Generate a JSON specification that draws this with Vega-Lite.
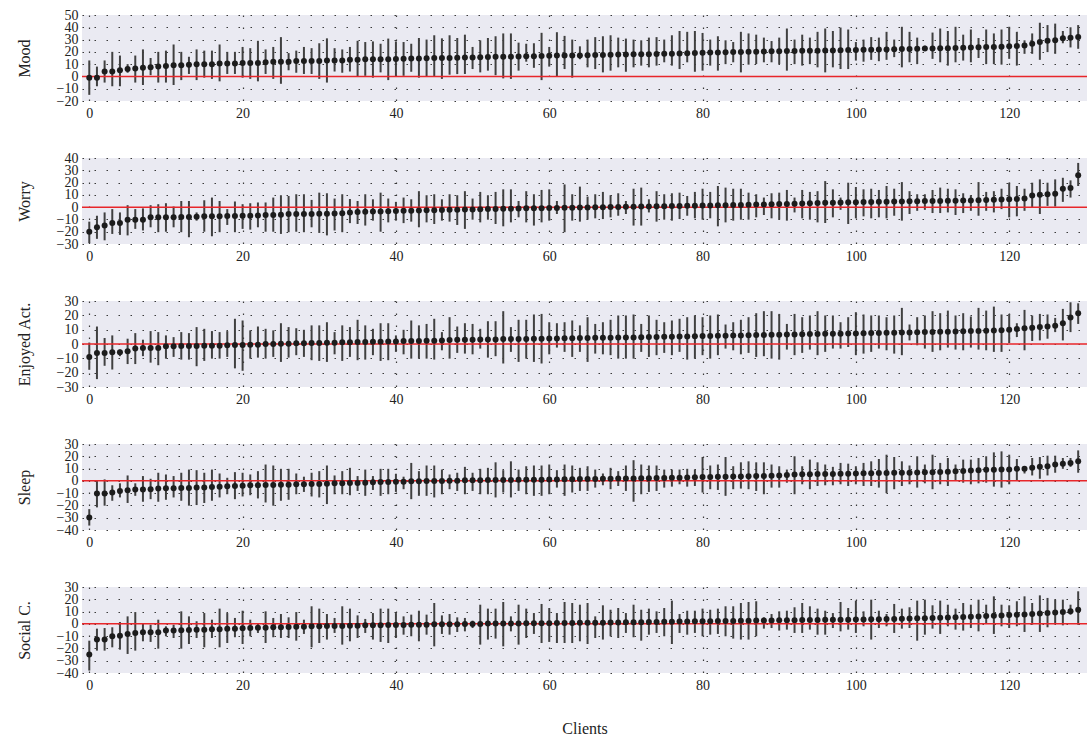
{
"$schema": "https://vega.github.io/schema/vega-lite/v6.json",
"padding": {"left": 16, "top": 8, "right": 0, "bottom": 0},
"spacing": 31,
"config": {
 "font": "Liberation Serif",
 "view": {"fill": "#EAEAF2", "stroke": null},
 "axis": {"domain": false, "ticks": false, "grid": true, "gridColor": "#3a3a3a", "gridDash": [1.5, 10.5], "gridWidth": 1.2, "labelFont": "Liberation Serif", "labelFontSize": 14, "labelColor": "#222", "titleFont": "Liberation Serif", "titleFontSize": 16, "titleFontWeight": "normal", "titleColor": "#222", "labelOverlap": false, "labelFlush": false, "labelBound": false},
 "axisX": {"labelPadding": 5},
 "axisY": {"labelPadding": 4, "titlePadding": 24}
},
"datasets": {
"mood": [
{"c":0,"m":-1,"lo":-15,"hi":13},{"c":1,"m":-1,"lo":-8,"hi":8},{"c":2,"m":4,"lo":-5,"hi":13},{"c":3,"m":4,"lo":-8,"hi":20},{"c":4,"m":5,"lo":-8,"hi":17},{"c":5,"m":6,"lo":3,"hi":10},{"c":6,"m":6.5,"lo":-5,"hi":17},{"c":7,"m":7,"lo":-7,"hi":22},{"c":8,"m":7.5,"lo":1,"hi":15},{"c":9,"m":8,"lo":-5,"hi":20},
{"c":10,"m":8.5,"lo":-5,"hi":21},{"c":11,"m":9,"lo":-7,"hi":26},{"c":12,"m":9,"lo":-3,"hi":20},{"c":13,"m":9.5,"lo":2,"hi":16},{"c":14,"m":10,"lo":-3,"hi":22},{"c":15,"m":10,"lo":-1,"hi":21},{"c":16,"m":10,"lo":-2,"hi":21},{"c":17,"m":10.5,"lo":-4,"hi":26},{"c":18,"m":10.5,"lo":2,"hi":20},{"c":19,"m":10.5,"lo":2,"hi":20},
{"c":20,"m":11,"lo":-1,"hi":24},{"c":21,"m":11,"lo":-2,"hi":23},{"c":22,"m":11,"lo":-4,"hi":29},{"c":23,"m":11.5,"lo":2,"hi":22},{"c":24,"m":12,"lo":-2,"hi":24},{"c":25,"m":12,"lo":-6,"hi":32},{"c":26,"m":12,"lo":5,"hi":19},{"c":27,"m":12.5,"lo":3,"hi":21},{"c":28,"m":12.5,"lo":2,"hi":24},{"c":29,"m":12.5,"lo":2,"hi":23},
{"c":30,"m":12.5,"lo":-2,"hi":27},{"c":31,"m":13,"lo":-5,"hi":31},{"c":32,"m":13,"lo":4,"hi":23},{"c":33,"m":13,"lo":3,"hi":22},{"c":34,"m":13.5,"lo":4,"hi":24},{"c":35,"m":13.5,"lo":0,"hi":29},{"c":36,"m":14,"lo":0.5,"hi":28},{"c":37,"m":14,"lo":-1,"hi":28.5},{"c":38,"m":14,"lo":3.3,"hi":26.6},{"c":39,"m":14,"lo":-3,"hi":30.8},
{"c":40,"m":14.2,"lo":-0.3,"hi":28.5},{"c":41,"m":14.3,"lo":0.5,"hi":28},{"c":42,"m":14.5,"lo":3.8,"hi":26.6},{"c":43,"m":14.6,"lo":-1,"hi":31.3},{"c":44,"m":14.8,"lo":0,"hi":30},{"c":45,"m":15,"lo":0,"hi":33.5},{"c":46,"m":15,"lo":-2,"hi":31},{"c":47,"m":15.1,"lo":1.4,"hi":33.5},{"c":48,"m":15.3,"lo":1.9,"hi":31.3},{"c":49,"m":15.5,"lo":2,"hi":34},
{"c":50,"m":15.5,"lo":6,"hi":24},{"c":51,"m":15.6,"lo":3.3,"hi":29.4},{"c":52,"m":15.8,"lo":4.7,"hi":31.3},{"c":53,"m":16,"lo":1,"hi":32.7},{"c":54,"m":16,"lo":-1.6,"hi":35},{"c":55,"m":16.1,"lo":-2,"hi":35},{"c":56,"m":16.3,"lo":4.7,"hi":27.5},{"c":57,"m":16.5,"lo":12,"hi":26.6},{"c":58,"m":16.5,"lo":7,"hi":27},{"c":59,"m":16.6,"lo":-3,"hi":35.5},
{"c":60,"m":16.8,"lo":8,"hi":24},{"c":61,"m":17,"lo":0,"hi":36},{"c":62,"m":17,"lo":6,"hi":33},{"c":63,"m":17,"lo":-1,"hi":30},{"c":64,"m":17.1,"lo":14,"hi":24.5},{"c":65,"m":17.3,"lo":7.4,"hi":30},{"c":66,"m":17.4,"lo":6,"hi":32},{"c":67,"m":17.5,"lo":3.3,"hi":32.7},{"c":68,"m":17.6,"lo":4.7,"hi":33.5},{"c":69,"m":17.8,"lo":7.4,"hi":31.6},
{"c":70,"m":17.9,"lo":3.8,"hi":30.8},{"c":71,"m":18,"lo":7.4,"hi":30},{"c":72,"m":18,"lo":8.8,"hi":29.4},{"c":73,"m":18.1,"lo":7.4,"hi":31.6},{"c":74,"m":18.3,"lo":8.8,"hi":32},{"c":75,"m":18.4,"lo":11.5,"hi":30},{"c":76,"m":18.5,"lo":8.8,"hi":33.5},{"c":77,"m":18.7,"lo":6,"hi":37},{"c":78,"m":18.9,"lo":11.5,"hi":36.3},{"c":79,"m":19,"lo":3.8,"hi":37},
{"c":80,"m":19.2,"lo":4.7,"hi":35.4},{"c":81,"m":19.4,"lo":8.8,"hi":30},{"c":82,"m":19.5,"lo":4.7,"hi":32.7},{"c":83,"m":19.6,"lo":10,"hi":29.4},{"c":84,"m":19.8,"lo":11.5,"hi":28},{"c":85,"m":19.9,"lo":3.3,"hi":36.3},{"c":86,"m":20,"lo":9.6,"hi":35},{"c":87,"m":20.1,"lo":10,"hi":34},{"c":88,"m":20.2,"lo":11.5,"hi":31.6},{"c":89,"m":20.4,"lo":11.5,"hi":28.8},
{"c":90,"m":20.5,"lo":10,"hi":31.6},{"c":91,"m":20.6,"lo":4.7,"hi":39},{"c":92,"m":20.7,"lo":10,"hi":30},{"c":93,"m":20.8,"lo":8.8,"hi":34},{"c":94,"m":21,"lo":10,"hi":31.6},{"c":95,"m":21,"lo":7.4,"hi":36.3},{"c":96,"m":21.1,"lo":3.3,"hi":39},{"c":97,"m":21.2,"lo":7.4,"hi":37},{"c":98,"m":21.3,"lo":6,"hi":39.8},{"c":99,"m":21.5,"lo":6,"hi":38.2},
{"c":100,"m":21.6,"lo":12.9,"hi":28},{"c":101,"m":21.7,"lo":12,"hi":30},{"c":102,"m":21.8,"lo":13.5,"hi":32},{"c":103,"m":22,"lo":12.4,"hi":31.6},{"c":104,"m":22,"lo":13.5,"hi":36.3},{"c":105,"m":22.1,"lo":15.7,"hi":30},{"c":106,"m":22.3,"lo":7.4,"hi":40.4},{"c":107,"m":22.4,"lo":11.5,"hi":36.3},{"c":108,"m":22.5,"lo":10,"hi":31.6},{"c":109,"m":22.7,"lo":21,"hi":25},
{"c":110,"m":22.8,"lo":14.3,"hi":35.7},{"c":111,"m":23,"lo":11.5,"hi":39},{"c":112,"m":23,"lo":8.8,"hi":37},{"c":113,"m":23.2,"lo":11.5,"hi":40.4},{"c":114,"m":23.4,"lo":12.9,"hi":34},{"c":115,"m":23.5,"lo":11.5,"hi":38.2},{"c":116,"m":23.7,"lo":15,"hi":31.3},{"c":117,"m":23.9,"lo":10,"hi":38.2},{"c":118,"m":24,"lo":10,"hi":35},{"c":119,"m":24.2,"lo":9.6,"hi":38.2},
{"c":120,"m":24.5,"lo":14.3,"hi":40.4},{"c":121,"m":24.8,"lo":8.8,"hi":36.3},{"c":122,"m":25.2,"lo":18.4,"hi":29.4},{"c":123,"m":26.5,"lo":18.4,"hi":35},{"c":124,"m":28,"lo":13.5,"hi":43.7},{"c":125,"m":29,"lo":19.8,"hi":41.8},{"c":126,"m":29.5,"lo":18.4,"hi":43},{"c":127,"m":31,"lo":27,"hi":37},{"c":128,"m":31.5,"lo":23.6,"hi":40},{"c":129,"m":32,"lo":22.5,"hi":41.8}
],
"worry": [
{"c":0,"m":-20,"lo":-29.3,"hi":-11.8},{"c":1,"m":-16.4,"lo":-25.8,"hi":-7},{"c":2,"m":-15,"lo":-27,"hi":-4.3},{"c":3,"m":-13,"lo":-21.8,"hi":-1.6},{"c":4,"m":-13,"lo":-22.6,"hi":-4.3},{"c":5,"m":-10.2,"lo":-23,"hi":1.6},{"c":6,"m":-10.2,"lo":-17.7,"hi":-1.6},{"c":7,"m":-10.2,"lo":-19,"hi":-1},{"c":8,"m":-8.3,"lo":-16.4,"hi":1.6},{"c":9,"m":-8.3,"lo":-20.4,"hi":2.4},
{"c":10,"m":-8.3,"lo":-20,"hi":3.2},{"c":11,"m":-8.2,"lo":-16.4,"hi":0.5},{"c":12,"m":-8.1,"lo":-20.4,"hi":5},{"c":13,"m":-8,"lo":-24.5,"hi":5},{"c":14,"m":-7.8,"lo":-11,"hi":-4.3},{"c":15,"m":-7.5,"lo":-20,"hi":5.6},{"c":16,"m":-7.5,"lo":-23.7,"hi":7.8},{"c":17,"m":-7.4,"lo":-20.4,"hi":5},{"c":18,"m":-7.3,"lo":-14.5,"hi":-1.6},{"c":19,"m":-7.2,"lo":-20.4,"hi":4.6},
{"c":20,"m":-7,"lo":-17.7,"hi":2.4},{"c":21,"m":-7,"lo":-18.3,"hi":3.2},{"c":22,"m":-6.8,"lo":-16.4,"hi":3.8},{"c":23,"m":-6.4,"lo":-20,"hi":3.8},{"c":24,"m":-6.3,"lo":-20,"hi":7.8},{"c":25,"m":-6.2,"lo":-21.8,"hi":9.7},{"c":26,"m":-5.6,"lo":-20.4,"hi":9.1},{"c":27,"m":-5.6,"lo":-20,"hi":10.5},{"c":28,"m":-5.5,"lo":-20.4,"hi":10.5},{"c":29,"m":-5.5,"lo":-16.4,"hi":5.9},
{"c":30,"m":-5.4,"lo":-21,"hi":11.8},{"c":31,"m":-5.3,"lo":-23,"hi":11.3},{"c":32,"m":-5.1,"lo":-19,"hi":7},{"c":33,"m":-5,"lo":-20.4,"hi":10.5},{"c":34,"m":-4.3,"lo":-13,"hi":6.6},{"c":35,"m":-4,"lo":-13.7,"hi":5},{"c":36,"m":-3.8,"lo":-15,"hi":10.5},{"c":37,"m":-3.6,"lo":-11,"hi":6.4},{"c":38,"m":-3.5,"lo":-20,"hi":11.8},{"c":39,"m":-3.3,"lo":-12.4,"hi":7},
{"c":40,"m":-3.2,"lo":-11,"hi":4.3},{"c":41,"m":-3,"lo":-13,"hi":7.8},{"c":42,"m":-2.9,"lo":-11.8,"hi":6.4},{"c":43,"m":-2.8,"lo":-16.4,"hi":13},{"c":44,"m":-2.6,"lo":-12.4,"hi":9.7},{"c":45,"m":-2.5,"lo":-13.7,"hi":10.5},{"c":46,"m":-2.4,"lo":-11,"hi":6.4},{"c":47,"m":-2.2,"lo":-11.8,"hi":10.5},{"c":48,"m":-2.1,"lo":-14.5,"hi":9.7},{"c":49,"m":-2,"lo":-17.7,"hi":13},
{"c":50,"m":-1.9,"lo":-10.2,"hi":7},{"c":51,"m":-1.8,"lo":-12.4,"hi":12.4},{"c":52,"m":-1.6,"lo":-10.2,"hi":9.7},{"c":53,"m":-1.5,"lo":-13.7,"hi":12.4},{"c":54,"m":-1.4,"lo":-15.6,"hi":14.5},{"c":55,"m":-1.3,"lo":-12.4,"hi":14.5},{"c":56,"m":-1.2,"lo":-8.3,"hi":5},{"c":57,"m":-1,"lo":-12.4,"hi":13},{"c":58,"m":-0.9,"lo":-15,"hi":10.5},{"c":59,"m":-0.8,"lo":-12.4,"hi":14},
{"c":60,"m":-0.7,"lo":-11,"hi":14.5},{"c":61,"m":-0.6,"lo":-5.6,"hi":5},{"c":62,"m":-0.5,"lo":-20.4,"hi":18.5},{"c":63,"m":-0.4,"lo":-11,"hi":10.5},{"c":64,"m":-0.3,"lo":-11.8,"hi":16.7},{"c":65,"m":-0.2,"lo":-10.2,"hi":8.6},{"c":66,"m":-0.1,"lo":-9.1,"hi":10.5},{"c":67,"m":0,"lo":-9.7,"hi":12.4},{"c":68,"m":0.1,"lo":-8.3,"hi":9.7},{"c":69,"m":0.2,"lo":-7,"hi":11.3},
{"c":70,"m":0.3,"lo":-5.6,"hi":5},{"c":71,"m":0.4,"lo":-15,"hi":15},{"c":72,"m":0.5,"lo":-15,"hi":15.9},{"c":73,"m":0.6,"lo":-4.3,"hi":6.4},{"c":74,"m":0.7,"lo":-11.8,"hi":13},{"c":75,"m":0.8,"lo":-10.2,"hi":10.5},{"c":76,"m":0.9,"lo":-11,"hi":11.3},{"c":77,"m":1,"lo":-9.7,"hi":11.8},{"c":78,"m":1.1,"lo":-7,"hi":9.1},{"c":79,"m":1.2,"lo":-9.1,"hi":12.4},
{"c":80,"m":1.3,"lo":-10.2,"hi":15},{"c":81,"m":1.4,"lo":-9.1,"hi":12.4},{"c":82,"m":1.5,"lo":-15.6,"hi":17.2},{"c":83,"m":1.6,"lo":-12.4,"hi":15.9},{"c":84,"m":1.7,"lo":-11,"hi":15},{"c":85,"m":1.8,"lo":-10.2,"hi":15},{"c":86,"m":2,"lo":-10.2,"hi":11.8},{"c":87,"m":2.1,"lo":-8.3,"hi":10.5},{"c":88,"m":2.2,"lo":-6.4,"hi":7.8},{"c":89,"m":2.4,"lo":-9.1,"hi":11.3},
{"c":90,"m":2.5,"lo":-10.2,"hi":11.8},{"c":91,"m":2.6,"lo":-11,"hi":14},{"c":92,"m":2.8,"lo":-4.3,"hi":7.8},{"c":93,"m":3,"lo":-9.1,"hi":14},{"c":94,"m":3.2,"lo":-10.2,"hi":12.4},{"c":95,"m":3.3,"lo":-12.4,"hi":13},{"c":96,"m":3.5,"lo":-12.9,"hi":21.2},{"c":97,"m":3.6,"lo":-8.3,"hi":14.5},{"c":98,"m":3.8,"lo":-2.2,"hi":7.8},{"c":99,"m":3.9,"lo":-13.7,"hi":19.9},
{"c":100,"m":4,"lo":-9.1,"hi":16.4},{"c":101,"m":4.1,"lo":-7.5,"hi":14.5},{"c":102,"m":4.2,"lo":-9.1,"hi":15},{"c":103,"m":4.3,"lo":-8.3,"hi":14},{"c":104,"m":4.4,"lo":-9.1,"hi":17.2},{"c":105,"m":4.5,"lo":-7,"hi":15},{"c":106,"m":4.6,"lo":-11,"hi":20.4},{"c":107,"m":4.7,"lo":-5.6,"hi":13},{"c":108,"m":4.8,"lo":-3,"hi":10.5},{"c":109,"m":4.9,"lo":-2.2,"hi":10.5},
{"c":110,"m":5,"lo":-4.8,"hi":14},{"c":111,"m":5.1,"lo":-4.8,"hi":15.9},{"c":112,"m":5.2,"lo":-4.3,"hi":15},{"c":113,"m":5.3,"lo":-6.4,"hi":14.5},{"c":114,"m":5.4,"lo":-4.8,"hi":11.3},{"c":115,"m":5.5,"lo":-3,"hi":9.7},{"c":116,"m":5.7,"lo":-7,"hi":20.4},{"c":117,"m":5.8,"lo":-3,"hi":12.4},{"c":118,"m":6,"lo":-4.3,"hi":13},{"c":119,"m":6.2,"lo":-1.6,"hi":15},
{"c":120,"m":6.4,"lo":-8.3,"hi":19.9},{"c":121,"m":6.6,"lo":-7.5,"hi":17.2},{"c":122,"m":7,"lo":-3,"hi":15},{"c":123,"m":9.5,"lo":-0.3,"hi":19.9},{"c":124,"m":10,"lo":-5.6,"hi":22.6},{"c":125,"m":10.5,"lo":1,"hi":19.9},{"c":126,"m":11,"lo":0.5,"hi":22.6},{"c":127,"m":15,"lo":4.3,"hi":23.9},{"c":128,"m":15.5,"lo":7.8,"hi":21.8},{"c":129,"m":26,"lo":17.2,"hi":36}
],
"enjoyed": [
{"c":0,"m":-9,"lo":-18,"hi":1},{"c":1,"m":-6.2,"lo":-24.5,"hi":12.2},{"c":2,"m":-6.2,"lo":-15.2,"hi":4.2},{"c":3,"m":-5.8,"lo":-17.8,"hi":6},{"c":4,"m":-5.8,"lo":-8.5,"hi":-3.9},{"c":5,"m":-5,"lo":-14,"hi":3.7},{"c":6,"m":-3.2,"lo":-14,"hi":7.6},{"c":7,"m":-2.8,"lo":-8.5,"hi":3},{"c":8,"m":-2.8,"lo":-13,"hi":9},{"c":9,"m":-2.8,"lo":-14.8,"hi":8.3},
{"c":10,"m":-1.6,"lo":-10.2,"hi":6},{"c":11,"m":-1.6,"lo":-9,"hi":4.8},{"c":12,"m":-1.4,"lo":-10.9,"hi":8.3},{"c":13,"m":-1.4,"lo":-10.9,"hi":7.6},{"c":14,"m":-1.4,"lo":-15.5,"hi":11.8},{"c":15,"m":-1.2,"lo":-11.8,"hi":10.6},{"c":16,"m":-1.2,"lo":-10.2,"hi":9},{"c":17,"m":-1.2,"lo":-10.2,"hi":8.3},{"c":18,"m":-0.9,"lo":-9,"hi":9},{"c":19,"m":-0.7,"lo":-17,"hi":17.6},
{"c":20,"m":-0.7,"lo":-18.7,"hi":16.4},{"c":21,"m":-0.5,"lo":-10.2,"hi":9.5},{"c":22,"m":-0.5,"lo":-9.5,"hi":12.2},{"c":23,"m":0,"lo":-10.2,"hi":10.6},{"c":24,"m":0,"lo":-9,"hi":9.5},{"c":25,"m":0.2,"lo":-12.5,"hi":14.5},{"c":26,"m":0.2,"lo":-9.5,"hi":11.8},{"c":27,"m":0.5,"lo":-7.8,"hi":11},{"c":28,"m":0.5,"lo":-9,"hi":9.9},{"c":29,"m":0.7,"lo":-11.3,"hi":13},
{"c":30,"m":0.7,"lo":-11.8,"hi":13},{"c":31,"m":0.9,"lo":-12.5,"hi":15.2},{"c":32,"m":0.9,"lo":-7.2,"hi":8.3},{"c":33,"m":1.2,"lo":-11.8,"hi":13},{"c":34,"m":1.2,"lo":-9,"hi":11.8},{"c":35,"m":1.4,"lo":-11.3,"hi":16.9},{"c":36,"m":1.4,"lo":-10.9,"hi":13},{"c":37,"m":1.6,"lo":-7.8,"hi":10.6},{"c":38,"m":1.6,"lo":-11.8,"hi":14.5},{"c":39,"m":1.8,"lo":-11.3,"hi":14.5},
{"c":40,"m":1.8,"lo":-5.5,"hi":6},{"c":41,"m":2.1,"lo":-7.2,"hi":9.9},{"c":42,"m":2.1,"lo":-10.2,"hi":16.4},{"c":43,"m":2.1,"lo":-10.2,"hi":13},{"c":44,"m":2.3,"lo":-10.2,"hi":14},{"c":45,"m":2.3,"lo":-10.9,"hi":17.6},{"c":46,"m":2.5,"lo":-4.4,"hi":8.3},{"c":47,"m":2.8,"lo":-10.2,"hi":18.7},{"c":48,"m":3,"lo":-6.2,"hi":12.2},{"c":49,"m":3,"lo":-6.7,"hi":14.5},
{"c":50,"m":3,"lo":-7.2,"hi":14},{"c":51,"m":3.2,"lo":-3.2,"hi":10.6},{"c":52,"m":3.2,"lo":-9.5,"hi":15.9},{"c":53,"m":3.2,"lo":-8.5,"hi":15.9},{"c":54,"m":3.5,"lo":-13.6,"hi":22.9},{"c":55,"m":3.5,"lo":-5.5,"hi":11.8},{"c":56,"m":3.5,"lo":-12.5,"hi":16.9},{"c":57,"m":3.5,"lo":-10.2,"hi":16.9},{"c":58,"m":3.7,"lo":-12.5,"hi":20.6},{"c":59,"m":3.7,"lo":-13.6,"hi":21},
{"c":60,"m":3.8,"lo":-7.2,"hi":15.2},{"c":61,"m":3.9,"lo":-2.5,"hi":14.5},{"c":62,"m":4,"lo":-5.5,"hi":15.2},{"c":63,"m":4,"lo":-9,"hi":16.4},{"c":64,"m":4.1,"lo":-5.5,"hi":13},{"c":65,"m":4.2,"lo":-12.5,"hi":18.7},{"c":66,"m":4.3,"lo":-6.7,"hi":14},{"c":67,"m":4.3,"lo":-7.2,"hi":15.2},{"c":68,"m":4.4,"lo":-7.8,"hi":16.9},{"c":69,"m":4.5,"lo":-10.2,"hi":19.9},
{"c":70,"m":4.5,"lo":-10.2,"hi":19.9},{"c":71,"m":4.6,"lo":-10.2,"hi":20.6},{"c":72,"m":4.7,"lo":-5.5,"hi":14},{"c":73,"m":4.8,"lo":-9,"hi":19.9},{"c":74,"m":4.9,"lo":-7.8,"hi":16.9},{"c":75,"m":5,"lo":-6.2,"hi":15.2},{"c":76,"m":5.1,"lo":-7.8,"hi":16.4},{"c":77,"m":5.2,"lo":-5.5,"hi":17.6},{"c":78,"m":5.3,"lo":-10.9,"hi":18.7},{"c":79,"m":5.4,"lo":-10.2,"hi":19.9},
{"c":80,"m":5.5,"lo":-7.8,"hi":18.7},{"c":81,"m":5.6,"lo":-10.2,"hi":19.9},{"c":82,"m":5.7,"lo":-7.8,"hi":20.6},{"c":83,"m":5.8,"lo":-3.2,"hi":13.6},{"c":84,"m":5.9,"lo":-4.4,"hi":15.2},{"c":85,"m":6,"lo":-7.2,"hi":16.9},{"c":86,"m":6.1,"lo":-6.2,"hi":18.7},{"c":87,"m":6.2,"lo":-9,"hi":21.5},{"c":88,"m":6.3,"lo":-8.5,"hi":22.9},{"c":89,"m":6.4,"lo":-10.2,"hi":22.9},
{"c":90,"m":6.5,"lo":-10.9,"hi":21},{"c":91,"m":6.6,"lo":-3.9,"hi":14},{"c":92,"m":6.7,"lo":-7.8,"hi":21},{"c":93,"m":6.8,"lo":-6.2,"hi":18.7},{"c":94,"m":6.9,"lo":-3.9,"hi":19.9},{"c":95,"m":7,"lo":-7.8,"hi":22.9},{"c":96,"m":7.1,"lo":-5.5,"hi":19.9},{"c":97,"m":7.1,"lo":-3.2,"hi":19.9},{"c":98,"m":7.2,"lo":-3.2,"hi":15.2},{"c":99,"m":7.3,"lo":-2.1,"hi":18.7},
{"c":100,"m":7.4,"lo":-7.8,"hi":22.2},{"c":101,"m":7.5,"lo":-6.7,"hi":20.6},{"c":102,"m":7.6,"lo":-5.5,"hi":19.9},{"c":103,"m":7.7,"lo":-3.2,"hi":19.9},{"c":104,"m":7.8,"lo":-4.4,"hi":18.7},{"c":105,"m":7.9,"lo":-6.7,"hi":19.9},{"c":106,"m":8,"lo":-7.8,"hi":25.2},{"c":107,"m":8.1,"lo":2.5,"hi":13.6},{"c":108,"m":8.2,"lo":-0.9,"hi":18.7},{"c":109,"m":8.3,"lo":-3.2,"hi":19.9},
{"c":110,"m":8.4,"lo":-5.5,"hi":22.9},{"c":111,"m":8.5,"lo":-4.4,"hi":21.5},{"c":112,"m":8.6,"lo":-2.5,"hi":23.3},{"c":113,"m":8.8,"lo":-3.9,"hi":19.9},{"c":114,"m":8.9,"lo":-4.4,"hi":21.5},{"c":115,"m":9,"lo":-2.5,"hi":19.2},{"c":116,"m":9.1,"lo":-3.9,"hi":25.2},{"c":117,"m":9.3,"lo":-4.4,"hi":23.3},{"c":118,"m":9.4,"lo":-5.5,"hi":26.1},{"c":119,"m":9.6,"lo":-5.5,"hi":20.6},
{"c":120,"m":9.9,"lo":0.7,"hi":21},{"c":121,"m":10.5,"lo":4.8,"hi":14.5},{"c":122,"m":11,"lo":-4.4,"hi":23.8},{"c":123,"m":11.3,"lo":2.1,"hi":19.9},{"c":124,"m":11.8,"lo":2.5,"hi":21},{"c":125,"m":12.2,"lo":3.7,"hi":20.6},{"c":126,"m":12.8,"lo":8.3,"hi":18.2},{"c":127,"m":14.5,"lo":2.5,"hi":24.5},{"c":128,"m":18.5,"lo":8.3,"hi":29.1},{"c":129,"m":21.5,"lo":14,"hi":28.4}
],
"sleep": [
{"c":0,"m":-29.9,"lo":-36.4,"hi":-23},{"c":1,"m":-10.3,"lo":-21.6,"hi":0},{"c":2,"m":-10.3,"lo":-20.2,"hi":1.2},{"c":3,"m":-9.5,"lo":-16.2,"hi":-3.6},{"c":4,"m":-8.2,"lo":-13.5,"hi":-2},{"c":5,"m":-7.6,"lo":-18,"hi":4.4},{"c":6,"m":-7.1,"lo":-12.2,"hi":-2},{"c":7,"m":-7.1,"lo":-17,"hi":3.9},{"c":8,"m":-6.8,"lo":-14.9,"hi":1.7},{"c":9,"m":-6.3,"lo":-17,"hi":6.6},
{"c":10,"m":-6,"lo":-15.4,"hi":5.2},{"c":11,"m":-6,"lo":-13.5,"hi":3.9},{"c":12,"m":-5.8,"lo":-16.2,"hi":6.6},{"c":13,"m":-5.8,"lo":-20.2,"hi":9.2},{"c":14,"m":-5.5,"lo":-19.7,"hi":8.7},{"c":15,"m":-5.5,"lo":-18,"hi":6.6},{"c":16,"m":-5,"lo":-16.2,"hi":9.2},{"c":17,"m":-4.7,"lo":-13.5,"hi":6},{"c":18,"m":-4.4,"lo":-10.9,"hi":2.5},{"c":19,"m":-4.2,"lo":-14.9,"hi":7.1},
{"c":20,"m":-3.9,"lo":-12.7,"hi":6.6},{"c":21,"m":-3.6,"lo":-11.7,"hi":5.2},{"c":22,"m":-3.6,"lo":-14.3,"hi":7.9},{"c":23,"m":-3.4,"lo":-17.6,"hi":13.3},{"c":24,"m":-3.4,"lo":-20.2,"hi":12.5},{"c":25,"m":-3.1,"lo":-16.2,"hi":9.8},{"c":26,"m":-3.1,"lo":-15.4,"hi":9.8},{"c":27,"m":-2.8,"lo":-10.9,"hi":6},{"c":28,"m":-2.8,"lo":-9,"hi":3.4},{"c":29,"m":-2.5,"lo":-12.7,"hi":6.6},
{"c":30,"m":-2.5,"lo":-13.5,"hi":7.9},{"c":31,"m":-2.3,"lo":-18.9,"hi":12.5},{"c":32,"m":-2,"lo":-10.9,"hi":4.4},{"c":33,"m":-2,"lo":-10.9,"hi":7.9},{"c":34,"m":-1.7,"lo":-11.7,"hi":10.6},{"c":35,"m":-1.7,"lo":-8.2,"hi":3.9},{"c":36,"m":-1.5,"lo":-12.2,"hi":9.2},{"c":37,"m":-1.2,"lo":-7.4,"hi":3.9},{"c":38,"m":-0.9,"lo":-12.2,"hi":9.8},{"c":39,"m":-0.9,"lo":-10.9,"hi":9.8},
{"c":40,"m":-0.7,"lo":-9,"hi":5.8},{"c":41,"m":-0.7,"lo":-6.8,"hi":3.4},{"c":42,"m":-0.4,"lo":-14.9,"hi":14.6},{"c":43,"m":-0.4,"lo":-12.2,"hi":7.9},{"c":44,"m":-0.1,"lo":-12.2,"hi":12.5},{"c":45,"m":-0.1,"lo":-13.5,"hi":12.5},{"c":46,"m":-0.1,"lo":-10.9,"hi":9.2},{"c":47,"m":0.1,"lo":-6.8,"hi":5.2},{"c":48,"m":0.1,"lo":-8.2,"hi":6.6},{"c":49,"m":0.4,"lo":-10.9,"hi":11.4},
{"c":50,"m":0.4,"lo":-8.2,"hi":6.6},{"c":51,"m":0.4,"lo":-10.9,"hi":9.8},{"c":52,"m":0.7,"lo":-10.9,"hi":10.6},{"c":53,"m":0.7,"lo":-13.5,"hi":15.1},{"c":54,"m":0.7,"lo":-9.5,"hi":8.7},{"c":55,"m":0.7,"lo":-13.5,"hi":15.9},{"c":56,"m":0.9,"lo":-8.2,"hi":9.2},{"c":57,"m":0.9,"lo":-10.9,"hi":11.9},{"c":58,"m":0.9,"lo":-12.2,"hi":12.5},{"c":59,"m":1,"lo":-12.2,"hi":12.5},
{"c":60,"m":1.2,"lo":-10.9,"hi":13.3},{"c":61,"m":1.2,"lo":-5.5,"hi":8.7},{"c":62,"m":1.3,"lo":-12.2,"hi":13.3},{"c":63,"m":1.4,"lo":-9.5,"hi":12.5},{"c":64,"m":1.5,"lo":-8.2,"hi":10.6},{"c":65,"m":1.5,"lo":-8.2,"hi":11.9},{"c":66,"m":1.6,"lo":-5.5,"hi":9.2},{"c":67,"m":1.7,"lo":-3.6,"hi":6},{"c":68,"m":1.8,"lo":-6.8,"hi":10.6},{"c":69,"m":1.9,"lo":-4.2,"hi":7.9},
{"c":70,"m":2,"lo":-8.2,"hi":12.5},{"c":71,"m":2,"lo":-17,"hi":16.8},{"c":72,"m":2.1,"lo":-10.9,"hi":13.3},{"c":73,"m":2.2,"lo":-9,"hi":12.5},{"c":74,"m":2.3,"lo":-8.2,"hi":12.5},{"c":75,"m":2.4,"lo":-5.5,"hi":9.2},{"c":76,"m":2.5,"lo":-4.7,"hi":9.2},{"c":77,"m":2.6,"lo":-2.8,"hi":9.2},{"c":78,"m":2.8,"lo":-4.7,"hi":9.8},{"c":79,"m":2.9,"lo":-4.2,"hi":9.2},
{"c":80,"m":3.1,"lo":-9.5,"hi":19.4},{"c":81,"m":3.2,"lo":-6.8,"hi":12.5},{"c":82,"m":3.3,"lo":-7.4,"hi":13.3},{"c":83,"m":3.4,"lo":-12.2,"hi":19.4},{"c":84,"m":3.5,"lo":-6.8,"hi":11.9},{"c":85,"m":3.6,"lo":-6.3,"hi":15.1},{"c":86,"m":3.8,"lo":-6.8,"hi":15.9},{"c":87,"m":3.9,"lo":-8.2,"hi":15.1},{"c":88,"m":4,"lo":-10.9,"hi":15.1},{"c":89,"m":4.2,"lo":-5.5,"hi":13.3},
{"c":90,"m":4.4,"lo":-5.5,"hi":11.9},{"c":91,"m":4.8,"lo":-1.5,"hi":9.2},{"c":92,"m":5.2,"lo":-10.9,"hi":20},{"c":93,"m":5.3,"lo":-2.8,"hi":11.9},{"c":94,"m":5.4,"lo":-6.8,"hi":17.3},{"c":95,"m":5.5,"lo":-4.2,"hi":15.1},{"c":96,"m":5.6,"lo":-3.6,"hi":13.3},{"c":97,"m":5.6,"lo":-3.6,"hi":11.4},{"c":98,"m":5.7,"lo":-2.8,"hi":14.6},{"c":99,"m":5.8,"lo":-4.2,"hi":14},
{"c":100,"m":6,"lo":-2.8,"hi":11.9},{"c":101,"m":6.1,"lo":-4.2,"hi":14.6},{"c":102,"m":6.2,"lo":-4.2,"hi":15.9},{"c":103,"m":6.3,"lo":-5.5,"hi":17.8},{"c":104,"m":6.4,"lo":-10,"hi":21.3},{"c":105,"m":6.5,"lo":-6.8,"hi":19.4},{"c":106,"m":6.6,"lo":-4.2,"hi":15.9},{"c":107,"m":6.7,"lo":-2.8,"hi":12.5},{"c":108,"m":6.8,"lo":-5.5,"hi":20},{"c":109,"m":7,"lo":-2,"hi":13.3},
{"c":110,"m":7.1,"lo":-6.8,"hi":21.3},{"c":111,"m":7.3,"lo":-2.8,"hi":14.6},{"c":112,"m":7.5,"lo":-4.2,"hi":18.6},{"c":113,"m":7.8,"lo":0.7,"hi":13.3},{"c":114,"m":8,"lo":-1.5,"hi":17.3},{"c":115,"m":8.4,"lo":-2.8,"hi":17.3},{"c":116,"m":8.6,"lo":-2,"hi":18.6},{"c":117,"m":9,"lo":-1.5,"hi":20},{"c":118,"m":9.1,"lo":-4.7,"hi":23.2},{"c":119,"m":9.2,"lo":-5.5,"hi":24},
{"c":120,"m":9.3,"lo":-2.8,"hi":21.3},{"c":121,"m":9.8,"lo":-0.1,"hi":17.8},{"c":122,"m":9.9,"lo":6,"hi":10.6},{"c":123,"m":10.6,"lo":4.4,"hi":18.6},{"c":124,"m":11.4,"lo":1.7,"hi":19.4},{"c":125,"m":11.9,"lo":4.4,"hi":20.5},{"c":126,"m":13.3,"lo":6.6,"hi":20.5},{"c":127,"m":14,"lo":9.8,"hi":18.6},{"c":128,"m":14.6,"lo":11.4,"hi":18.6},{"c":129,"m":15.9,"lo":6.6,"hi":24.8}
],
"social": [
{"c":0,"m":-25,"lo":-38,"hi":-13.7},{"c":1,"m":-12.8,"lo":-21.8,"hi":-3.9},{"c":2,"m":-12.8,"lo":-21.8,"hi":-3.4},{"c":3,"m":-10.1,"lo":-19.1,"hi":-2.8},{"c":4,"m":-9.6,"lo":-21,"hi":1.5},{"c":5,"m":-8.2,"lo":-24.5,"hi":6.1},{"c":6,"m":-7.4,"lo":-21.8,"hi":9.6},{"c":7,"m":-6.9,"lo":-14.2,"hi":-0.1},{"c":8,"m":-6.9,"lo":-14.7,"hi":-0.7},{"c":9,"m":-6.9,"lo":-20.2,"hi":3.4},
{"c":10,"m":-5.5,"lo":-10.1,"hi":-2},{"c":11,"m":-5.5,"lo":-11.5,"hi":-0.7},{"c":12,"m":-5.3,"lo":-20.2,"hi":10.2},{"c":13,"m":-5,"lo":-16.4,"hi":6.1},{"c":14,"m":-4.7,"lo":-11.5,"hi":2.1},{"c":15,"m":-4.7,"lo":-19.1,"hi":8.8},{"c":16,"m":-4.4,"lo":-11.5,"hi":3.4},{"c":17,"m":-4.4,"lo":-19.1,"hi":12.4},{"c":18,"m":-3.9,"lo":-15.6,"hi":8.8},{"c":19,"m":-3.9,"lo":-10.9,"hi":4.8},
{"c":20,"m":-3.6,"lo":-16.4,"hi":10.7},{"c":21,"m":-3.4,"lo":-10.1,"hi":3.4},{"c":22,"m":-3.1,"lo":-7.4,"hi":0.7},{"c":23,"m":-3.1,"lo":-15.6,"hi":10.2},{"c":24,"m":-2.8,"lo":-10.9,"hi":4.8},{"c":25,"m":-2.8,"lo":-11.5,"hi":8},{"c":26,"m":-2.5,"lo":-11.5,"hi":5.3},{"c":27,"m":-2.3,"lo":-13.7,"hi":9.6},{"c":28,"m":-2.3,"lo":-8.2,"hi":3.4},{"c":29,"m":-2,"lo":-19.1,"hi":14.3},
{"c":30,"m":-2,"lo":-15.6,"hi":12.4},{"c":31,"m":-1.7,"lo":-12.8,"hi":8},{"c":32,"m":-1.7,"lo":-7.4,"hi":4.8},{"c":33,"m":-1.7,"lo":-16.9,"hi":14.3},{"c":34,"m":-1.5,"lo":-14.2,"hi":12.4},{"c":35,"m":-1.5,"lo":-11.5,"hi":6.9},{"c":36,"m":-1.2,"lo":-7.4,"hi":4},{"c":37,"m":-1.2,"lo":-12.8,"hi":8.8},{"c":38,"m":-1.2,"lo":-14.7,"hi":12.4},{"c":39,"m":-0.9,"lo":-15.6,"hi":12.4},
{"c":40,"m":-0.9,"lo":-11.5,"hi":8.8},{"c":41,"m":-0.9,"lo":-8.8,"hi":6.1},{"c":42,"m":-0.7,"lo":-10.1,"hi":7.5},{"c":43,"m":-0.7,"lo":-14.2,"hi":10.7},{"c":44,"m":-0.7,"lo":-8.8,"hi":7.5},{"c":45,"m":-0.4,"lo":-18.3,"hi":17},{"c":46,"m":-0.4,"lo":-8.2,"hi":6.9},{"c":47,"m":-0.4,"lo":-8.8,"hi":8},{"c":48,"m":-0.4,"lo":-6.6,"hi":5.3},{"c":49,"m":-0.1,"lo":-6.1,"hi":4.8},
{"c":50,"m":-0.1,"lo":-3.4,"hi":2.6},{"c":51,"m":-0.1,"lo":-16.9,"hi":15.6},{"c":52,"m":0.2,"lo":-12.8,"hi":12.4},{"c":53,"m":0.2,"lo":-12,"hi":12.4},{"c":54,"m":0.2,"lo":-18.3,"hi":17.8},{"c":55,"m":0.2,"lo":-6.1,"hi":6.1},{"c":56,"m":0.2,"lo":-16.9,"hi":15.6},{"c":57,"m":0.4,"lo":-11.5,"hi":12.4},{"c":58,"m":0.4,"lo":-8.2,"hi":8.8},{"c":59,"m":0.4,"lo":-15.6,"hi":16.2},
{"c":60,"m":0.5,"lo":-14.7,"hi":12.9},{"c":61,"m":0.6,"lo":-15.6,"hi":8.8},{"c":62,"m":0.7,"lo":-15.6,"hi":17.8},{"c":63,"m":0.7,"lo":-15.6,"hi":17},{"c":64,"m":0.8,"lo":-14.2,"hi":15.6},{"c":65,"m":0.9,"lo":-16.4,"hi":17},{"c":66,"m":1,"lo":-11.5,"hi":6.1},{"c":67,"m":1,"lo":-12.8,"hi":15.1},{"c":68,"m":1.1,"lo":-10.1,"hi":11.5},{"c":69,"m":1.2,"lo":-11.5,"hi":12.9},
{"c":70,"m":1.3,"lo":-7.4,"hi":8.8},{"c":71,"m":1.4,"lo":-10.9,"hi":15.6},{"c":72,"m":1.4,"lo":-13.7,"hi":11.5},{"c":73,"m":1.5,"lo":-8.8,"hi":12.4},{"c":74,"m":1.6,"lo":-7.4,"hi":10.2},{"c":75,"m":1.7,"lo":-10.1,"hi":12.9},{"c":76,"m":1.8,"lo":-16.4,"hi":18.9},{"c":77,"m":1.9,"lo":-7.4,"hi":8},{"c":78,"m":2,"lo":-8.8,"hi":10.7},{"c":79,"m":2.1,"lo":-7.4,"hi":10.7},
{"c":80,"m":2.1,"lo":-10.1,"hi":12.4},{"c":81,"m":2.2,"lo":-8.8,"hi":11.5},{"c":82,"m":2.3,"lo":-8.2,"hi":12.4},{"c":83,"m":2.4,"lo":-10.1,"hi":14.3},{"c":84,"m":2.4,"lo":-12,"hi":14.3},{"c":85,"m":2.5,"lo":-12.8,"hi":17},{"c":86,"m":2.6,"lo":-12.8,"hi":17.8},{"c":87,"m":2.7,"lo":-10.1,"hi":18.4},{"c":88,"m":2.7,"lo":-3.9,"hi":5.3},{"c":89,"m":2.8,"lo":-3.4,"hi":8},
{"c":90,"m":2.9,"lo":-5.5,"hi":10.2},{"c":91,"m":2.9,"lo":-4.7,"hi":10.7},{"c":92,"m":3,"lo":-7.4,"hi":13.5},{"c":93,"m":3.1,"lo":-7.4,"hi":17},{"c":94,"m":3.2,"lo":-4.7,"hi":14.3},{"c":95,"m":3.2,"lo":-8.8,"hi":12.4},{"c":96,"m":3.3,"lo":-8.8,"hi":10.7},{"c":97,"m":3.3,"lo":-3.4,"hi":8.8},{"c":98,"m":3.4,"lo":-6.1,"hi":17.8},{"c":99,"m":3.4,"lo":-4.7,"hi":12.9},
{"c":100,"m":3.5,"lo":-7.4,"hi":18.9},{"c":101,"m":3.6,"lo":-2,"hi":10.2},{"c":102,"m":3.7,"lo":-12.8,"hi":19.7},{"c":103,"m":3.8,"lo":-3.4,"hi":10.7},{"c":104,"m":3.9,"lo":-2,"hi":8},{"c":105,"m":4,"lo":-7.4,"hi":16.2},{"c":106,"m":4.2,"lo":-3.9,"hi":12.4},{"c":107,"m":4.3,"lo":-3.4,"hi":13.5},{"c":108,"m":4.5,"lo":-13.7,"hi":18.9},{"c":109,"m":4.6,"lo":-8.8,"hi":19.7},
{"c":110,"m":4.8,"lo":-3.9,"hi":15.1},{"c":111,"m":5,"lo":-8.2,"hi":18.9},{"c":112,"m":5.2,"lo":-2,"hi":15.6},{"c":113,"m":5.4,"lo":-4.7,"hi":12.4},{"c":114,"m":5.6,"lo":-5.5,"hi":17},{"c":115,"m":5.8,"lo":-3.4,"hi":15.6},{"c":116,"m":6,"lo":-6.1,"hi":19.7},{"c":117,"m":6.3,"lo":-0.1,"hi":15.6},{"c":118,"m":6.6,"lo":-8.2,"hi":22.4},{"c":119,"m":6.9,"lo":-2,"hi":15.6},
{"c":120,"m":7.2,"lo":-3.4,"hi":15.1},{"c":121,"m":7.4,"lo":-2,"hi":18.4},{"c":122,"m":7.7,"lo":-6.6,"hi":22.4},{"c":123,"m":8.1,"lo":-0.7,"hi":17},{"c":124,"m":8.5,"lo":-6.6,"hi":23.2},{"c":125,"m":8.8,"lo":-2.8,"hi":21.1},{"c":126,"m":9.2,"lo":-0.1,"hi":19.7},{"c":127,"m":9.6,"lo":-1.2,"hi":19.7},{"c":128,"m":10.2,"lo":7.5,"hi":15.6},{"c":129,"m":11.5,"lo":-0.7,"hi":26.5}
]
},
"vconcat": [
{"width": 1005, "height": 86, "data": {"name": "mood"}, "layer": [
 {"mark": {"type": "rule", "color": "#404040", "strokeWidth": 2}, "encoding": {"x": {"field": "c", "type": "quantitative", "scale": {"domain": [-0.95, 130.15], "nice": false, "zero": false}, "axis": {"title": null, "values": [0, 20, 40, 60, 80, 100, 120]}}, "y": {"field": "lo", "type": "quantitative", "scale": {"domain": [-20, 50], "nice": false, "zero": false}, "axis": {"title": "Mood", "values": [-20, -10, 0, 10, 20, 30, 40, 50]}}, "y2": {"field": "hi"}}},
 {"data": {"values": [{}]}, "mark": {"type": "rule", "color": "#e8262a", "strokeWidth": 1.5}, "encoding": {"y": {"datum": 0, "axis": {"title": "Mood", "values": [-20, -10, 0, 10, 20, 30, 40, 50]}}}},
 {"mark": {"type": "circle", "color": "#1c1c1c", "size": 36, "opacity": 1}, "encoding": {"x": {"field": "c", "type": "quantitative", "axis": {"title": null, "values": [0, 20, 40, 60, 80, 100, 120]}}, "y": {"field": "m", "type": "quantitative", "axis": {"title": "Mood", "values": [-20, -10, 0, 10, 20, 30, 40, 50]}}}}
]},
{"width": 1005, "height": 86, "data": {"name": "worry"}, "layer": [
 {"mark": {"type": "rule", "color": "#404040", "strokeWidth": 2}, "encoding": {"x": {"field": "c", "type": "quantitative", "scale": {"domain": [-0.95, 130.15], "nice": false, "zero": false}, "axis": {"title": null, "values": [0, 20, 40, 60, 80, 100, 120]}}, "y": {"field": "lo", "type": "quantitative", "scale": {"domain": [-30, 40], "nice": false, "zero": false}, "axis": {"title": "Worry", "values": [-30, -20, -10, 0, 10, 20, 30, 40]}}, "y2": {"field": "hi"}}},
 {"data": {"values": [{}]}, "mark": {"type": "rule", "color": "#e8262a", "strokeWidth": 1.5}, "encoding": {"y": {"datum": 0, "axis": {"title": "Worry", "values": [-30, -20, -10, 0, 10, 20, 30, 40]}}}},
 {"mark": {"type": "circle", "color": "#1c1c1c", "size": 36, "opacity": 1}, "encoding": {"x": {"field": "c", "type": "quantitative", "axis": {"title": null, "values": [0, 20, 40, 60, 80, 100, 120]}}, "y": {"field": "m", "type": "quantitative", "axis": {"title": "Worry", "values": [-30, -20, -10, 0, 10, 20, 30, 40]}}}}
]},
{"width": 1005, "height": 86, "data": {"name": "enjoyed"}, "layer": [
 {"mark": {"type": "rule", "color": "#404040", "strokeWidth": 2}, "encoding": {"x": {"field": "c", "type": "quantitative", "scale": {"domain": [-0.95, 130.15], "nice": false, "zero": false}, "axis": {"title": null, "values": [0, 20, 40, 60, 80, 100, 120]}}, "y": {"field": "lo", "type": "quantitative", "scale": {"domain": [-30, 30], "nice": false, "zero": false}, "axis": {"title": "Enjoyed Act.", "values": [-30, -20, -10, 0, 10, 20, 30]}}, "y2": {"field": "hi"}}},
 {"data": {"values": [{}]}, "mark": {"type": "rule", "color": "#e8262a", "strokeWidth": 1.5}, "encoding": {"y": {"datum": 0, "axis": {"title": "Enjoyed Act.", "values": [-30, -20, -10, 0, 10, 20, 30]}}}},
 {"mark": {"type": "circle", "color": "#1c1c1c", "size": 36, "opacity": 1}, "encoding": {"x": {"field": "c", "type": "quantitative", "axis": {"title": null, "values": [0, 20, 40, 60, 80, 100, 120]}}, "y": {"field": "m", "type": "quantitative", "axis": {"title": "Enjoyed Act.", "values": [-30, -20, -10, 0, 10, 20, 30]}}}}
]},
{"width": 1005, "height": 86, "data": {"name": "sleep"}, "layer": [
 {"mark": {"type": "rule", "color": "#404040", "strokeWidth": 2}, "encoding": {"x": {"field": "c", "type": "quantitative", "scale": {"domain": [-0.95, 130.15], "nice": false, "zero": false}, "axis": {"title": null, "values": [0, 20, 40, 60, 80, 100, 120]}}, "y": {"field": "lo", "type": "quantitative", "scale": {"domain": [-40, 30], "nice": false, "zero": false}, "axis": {"title": "Sleep", "values": [-40, -30, -20, -10, 0, 10, 20, 30]}}, "y2": {"field": "hi"}}},
 {"data": {"values": [{}]}, "mark": {"type": "rule", "color": "#e8262a", "strokeWidth": 1.5}, "encoding": {"y": {"datum": 0, "axis": {"title": "Sleep", "values": [-40, -30, -20, -10, 0, 10, 20, 30]}}}},
 {"mark": {"type": "circle", "color": "#1c1c1c", "size": 36, "opacity": 1}, "encoding": {"x": {"field": "c", "type": "quantitative", "axis": {"title": null, "values": [0, 20, 40, 60, 80, 100, 120]}}, "y": {"field": "m", "type": "quantitative", "axis": {"title": "Sleep", "values": [-40, -30, -20, -10, 0, 10, 20, 30]}}}}
]},
{"width": 1005, "height": 86, "data": {"name": "social"}, "layer": [
 {"mark": {"type": "rule", "color": "#404040", "strokeWidth": 2}, "encoding": {"x": {"field": "c", "type": "quantitative", "scale": {"domain": [-0.95, 130.15], "nice": false, "zero": false}, "axis": {"title": "Clients", "titlePadding": 28, "values": [0, 20, 40, 60, 80, 100, 120]}}, "y": {"field": "lo", "type": "quantitative", "scale": {"domain": [-40, 30], "nice": false, "zero": false}, "axis": {"title": "Social C.", "values": [-40, -30, -20, -10, 0, 10, 20, 30]}}, "y2": {"field": "hi"}}},
 {"data": {"values": [{}]}, "mark": {"type": "rule", "color": "#e8262a", "strokeWidth": 1.5}, "encoding": {"y": {"datum": 0, "axis": {"title": "Social C.", "values": [-40, -30, -20, -10, 0, 10, 20, 30]}}}},
 {"mark": {"type": "circle", "color": "#1c1c1c", "size": 36, "opacity": 1}, "encoding": {"x": {"field": "c", "type": "quantitative", "axis": {"title": "Clients", "titlePadding": 28, "values": [0, 20, 40, 60, 80, 100, 120]}}, "y": {"field": "m", "type": "quantitative", "axis": {"title": "Social C.", "values": [-40, -30, -20, -10, 0, 10, 20, 30]}}}}
]}
]
}
